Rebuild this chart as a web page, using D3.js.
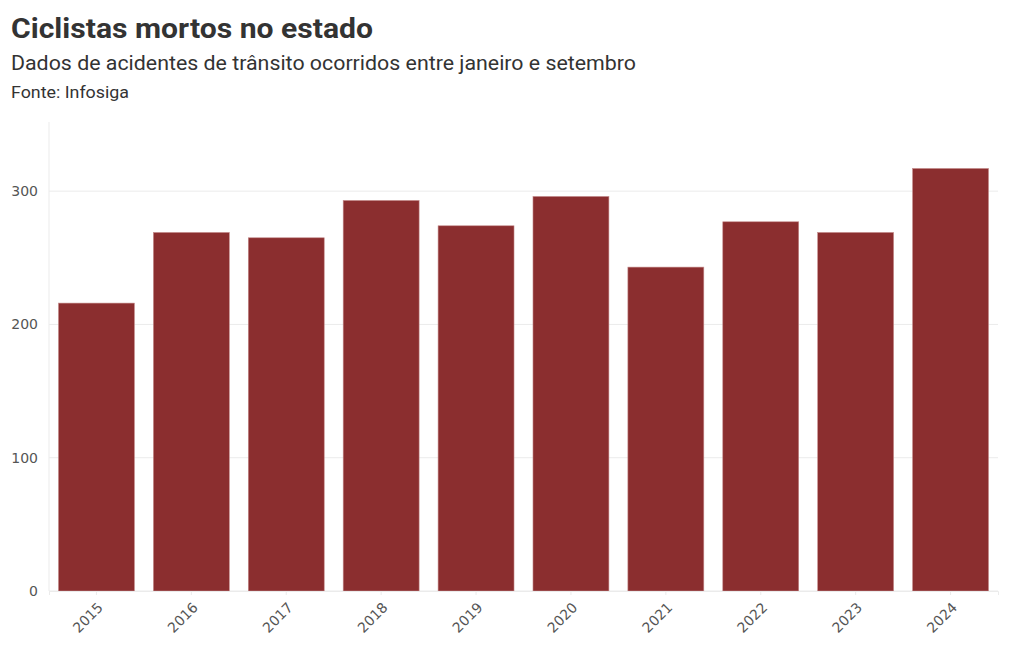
<!DOCTYPE html>
<html><head><meta charset="utf-8">
<script src="https://cdn.jsdelivr.net/npm/d3@7"></script>
<style>
body{margin:0;background:#fff;}
svg{display:block;font-family:"Roboto",sans-serif;}
</style></head>
<body>
<svg id="c" width="1020" height="650"></svg>
<script>
const years = ["2015","2016","2017","2018","2019","2020","2021","2022","2023","2024"];
const deaths = [216, 269, 265, 293, 274, 296, 243, 277, 269, 317];
const yTicks = [0, 100, 200, 300];
const title = "Ciclistas mortos no estado";
const subtitle = "Dados de acidentes de trânsito ocorridos entre janeiro e setembro";
const source = "Fonte: Infosiga";

const svg = d3.select("#c");
const m = {left:49, right:22, top:122, bottom:59};
const W = 1020, H = 650;

svg.append("text").attr("x",11).attr("y",38).text(title)
  .attr("font-size",28).attr("font-weight",700).attr("fill","#333")
  .attr("textLength",362).attr("lengthAdjust","spacingAndGlyphs");
svg.append("text").attr("x",11).attr("y",70).text(subtitle)
  .attr("font-size",20).attr("fill","#333")
  .attr("textLength",625).attr("lengthAdjust","spacingAndGlyphs");
svg.append("text").attr("x",11).attr("y",98).text(source)
  .attr("font-size",16).attr("fill","#333")
  .attr("textLength",118).attr("lengthAdjust","spacingAndGlyphs");

const x = d3.scaleBand().domain(years).range([m.left, W-m.right]).paddingInner(0.2).paddingOuter(0.1);
const y = d3.scaleLinear().domain([0, d3.max(deaths)*1.11]).range([H-m.bottom, m.top]);

// grid
svg.append("g").selectAll("line").data(yTicks).join("line")
  .attr("x1",m.left).attr("x2",W-m.right)
  .attr("y1",d=>y(d)).attr("y2",d=>y(d))
  .attr("stroke","#ebebeb").attr("stroke-width",1);
svg.append("line").attr("x1",m.left).attr("x2",m.left).attr("y1",m.top).attr("y2",H-m.bottom)
  .attr("stroke","#ebebeb");

// bars
svg.append("g").selectAll("rect").data(years).join("rect")
  .attr("x",d=>x(d)).attr("width",x.bandwidth())
  .attr("y",(d,i)=>y(deaths[i])).attr("height",(d,i)=>y(0)-y(deaths[i]))
  .attr("fill","#8b2e2f").attr("stroke","#c48a8a").attr("stroke-width",0.6);

// y axis
const ya = svg.append("g").attr("transform",`translate(${m.left},0)`)
  .call(d3.axisLeft(y).tickValues(yTicks).tickSize(0).tickPadding(11));
ya.select(".domain").remove();
ya.selectAll("text").attr("font-size",14).attr("fill","#555").attr("font-family","'DejaVu Sans', sans-serif");

// x axis
const xa = svg.append("g").attr("transform",`translate(0,${H-m.bottom})`)
  .call(d3.axisBottom(x).tickSize(4).tickPadding(6));
xa.select(".domain").attr("stroke","#ebebeb");
xa.selectAll(".tick line").attr("stroke","#ebebeb");
xa.selectAll("text").attr("font-size",14).attr("fill","#555").attr("font-family","'DejaVu Sans', sans-serif")
  .attr("text-anchor","end").attr("x",0).attr("y",0).attr("dy","0.35em")
  .attr("transform","translate(4,14) rotate(-45)");
</script>
</body></html>
